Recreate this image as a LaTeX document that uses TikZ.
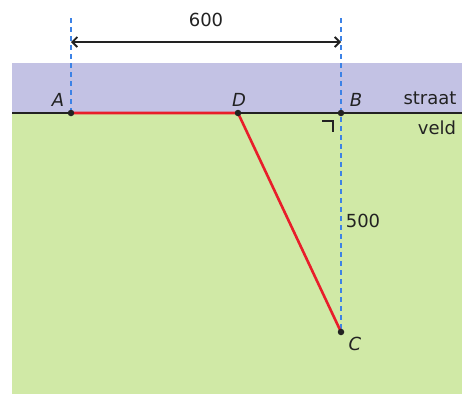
\documentclass[tikz,border=0pt]{standalone}
\usepackage{fontspec}
\setmainfont{DejaVu Sans}
\usetikzlibrary{arrows.meta}
\definecolor{straatc}{RGB}{195,194,228}
\definecolor{veldc}{RGB}{208,233,166}
\definecolor{redc}{RGB}{232,30,42}
\definecolor{dashc}{RGB}{60,130,230}
\definecolor{inkc}{RGB}{34,34,34}
\pgfdeclarelayer{lines}
\pgfdeclarelayer{bg}
\pgfsetlayers{bg,lines,main}
\tikzset{
  pt/.style={circle,fill=inkc,inner sep=0pt,minimum size=6.5pt},
  lbl/.style={text=inkc,font=\fontsize{18}{20}\selectfont,inner sep=0pt},
  guide/.style={draw=dashc,line width=1.2pt,dash pattern=on 5pt off 4pt},
  redline/.style={draw=redc,line width=2.6pt},
}
\begin{document}
\begin{tikzpicture}[x=1pt,y=-1pt]
\useasboundingbox (0,0) rectangle (462,394);
\begin{pgfonlayer}{bg}
\fill[white] (0,0) rectangle (462,394);
\fill[straatc] (12,63) rectangle (462,113);
\fill[veldc] (12,113) rectangle (462,394);
\end{pgfonlayer}
\coordinate (L) at (12,113);
\coordinate (R) at (462,113);
\node[pt] (A) at (71,113) {};
\node[pt] (D) at (238,113) {};
\node[pt] (B) at (341,113) {};
\node[pt] (C) at (341,332) {};
\coordinate (At) at (71,18);
\coordinate (Bt) at (341,18);
\coordinate (Ad) at (71,42);
\coordinate (Bd) at (341,42);
\begin{pgfonlayer}{lines}
\draw[inkc,line width=2pt] (L) -- (R);
\draw[guide] (At) -- (A.center);
\draw[guide] (Bt) -- (C.center);
\draw[redline] (A.center) -- (D.center) -- (C.center);
\end{pgfonlayer}
\draw[inkc,line width=1.8pt,{Straight Barb[length=5pt,width=10pt]}-{Straight Barb[length=5pt,width=10pt]}] (Ad) -- (Bd);
\draw[inkc,line width=1.8pt] (322,121) -- (333,121) -- (333,132);
\node[lbl] (n600) at (206,20) {600};
\node[lbl] (n500) at (363,221) {500};
\node[lbl] (ls) at (430,98) {straat};
\node[lbl] (lv) at (437,128) {veld};
\node[lbl] (lA) at (58,100) {\itshape A};
\node[lbl] (lD) at (239,100) {\itshape D};
\node[lbl] (lB) at (356,100) {\itshape B};
\node[lbl] (lC) at (355,344) {\itshape C};
\end{tikzpicture}
\end{document}
